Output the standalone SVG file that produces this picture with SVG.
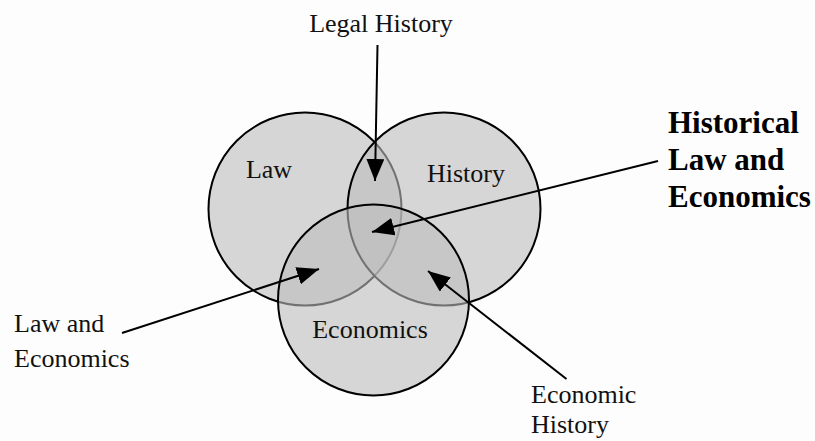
<svg xmlns="http://www.w3.org/2000/svg" width="815" height="441" viewBox="0 0 815 441">
<style>
.c{fill:#bdbdbd;fill-opacity:0.6;stroke:#000;stroke-width:2}
.t{font-family:"Liberation Serif","Times New Roman",serif;font-size:26px;fill:#111}
.b{font-family:"Liberation Serif","Times New Roman",serif;font-size:31px;font-weight:bold;fill:#000}
.a{stroke:#000;stroke-width:2;fill:none;marker-end:url(#ah)}
</style>
<defs>
<marker id="ah" markerUnits="userSpaceOnUse" markerWidth="24" markerHeight="20" refX="22" refY="9" orient="auto">
<path d="M0,0 L22,9 L0,18 z" fill="#000"/>
</marker>
</defs>
<rect width="815" height="441" fill="#fdfdfd"/>
<g id="law"><circle class="c" cx="305" cy="209" r="96.5"/><text class="t" x="269" y="178" text-anchor="middle">Law</text></g>
<g id="history"><circle class="c" cx="444" cy="209" r="96.5"/><text class="t" x="466" y="182" text-anchor="middle">History</text></g>
<g id="economics"><circle class="c" cx="373.5" cy="300" r="95.5"/><text class="t" x="370" y="338" text-anchor="middle">Economics</text></g>
<g id="legal-history"><text class="t" x="381" y="32" text-anchor="middle">Legal History</text></g>
<g id="hle"><text class="b" x="668" y="133">Historical</text><text class="b" x="668" y="170">Law and</text><text class="b" x="668" y="207">Economics</text></g>
<g id="law-econ"><text class="t" x="14" y="332">Law and</text><text class="t" x="14" y="367">Economics</text></g>
<g id="econ-history"><text class="t" x="531" y="403">Economic</text><text class="t" x="531" y="433">History</text></g>
<g id="connectors">
<line class="a" x1="377.5" y1="45" x2="375" y2="181"/>
<line class="a" x1="658" y1="161" x2="372" y2="232"/>
<line class="a" x1="122" y1="333" x2="319" y2="269"/>
<line class="a" x1="566.5" y1="379" x2="428" y2="271"/>
</g>
</svg>
